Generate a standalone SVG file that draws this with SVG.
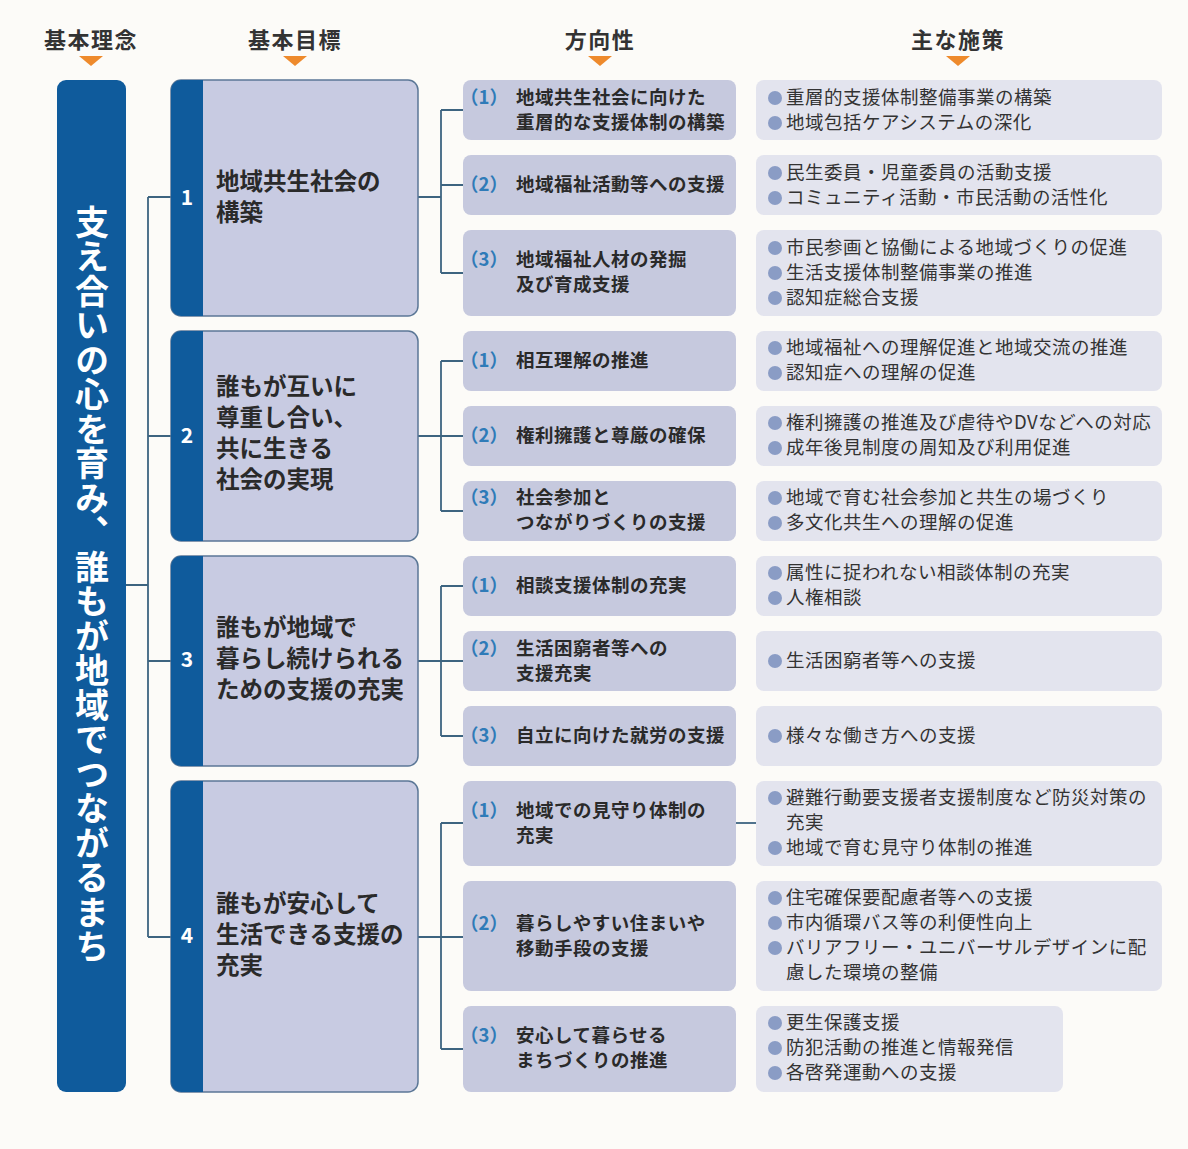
<svg xmlns="http://www.w3.org/2000/svg" width="1188" height="1149" viewBox="0 0 1188 1149">
<style>
text{font-family:"Noto Sans CJK JP","Noto Sans",sans-serif}
.hd{font-size:22px;font-weight:bold;fill:#333;text-anchor:middle;letter-spacing:1.5px}
.tri{fill:#ee8a2c}
.gbox{fill:#c8cbe2;stroke:#5b7796;stroke-width:1.5}
.strip{fill:#0f5b9c}
.num{font-size:21px;font-weight:bold;fill:#fff;text-anchor:middle}
.gt{font-size:23.5px;font-weight:bold;fill:#2a2a2a}
.dbox{fill:#c6c9de}
.mbox{fill:#e3e4ee}
.par{font-size:18.5px;font-weight:bold;fill:#2f7bb8}
.dt{font-size:18.5px;font-weight:bold;fill:#2a2a2a;letter-spacing:0.5px}
.mt{font-size:18.5px;fill:#333;letter-spacing:0.5px}
.bul{fill:#8a9cc5}
.ln{fill:none;stroke:#3d6480;stroke-width:1.8}
.vt{font-size:34px;font-weight:bold;fill:#fff;writing-mode:vertical-rl;text-orientation:upright;letter-spacing:0.5px}
</style>
<rect width="1188" height="1149" fill="#fcfbf8"/>

<g id="headers">
<text class="hd" x="91" y="48">基本理念</text>
<text class="hd" x="295" y="48">基本目標</text>
<text class="hd" x="600" y="48">方向性</text>
<text class="hd" x="958" y="48">主な施策</text>
<polygon class="tri" points="79,56 103,56 91,66"/>
<polygon class="tri" points="283,56 307,56 295,66"/>
<polygon class="tri" points="588,56 612,56 600,66"/>
<polygon class="tri" points="946,56 970,56 958,66"/>
</g>

<g id="connectors">
<path class="ln" d="M126,585 H148 M148,197 V937 M148,197 H171 M148,436 H171 M148,661 H171 M148,937 H171"/>
<path class="ln" d="M418,197 H441 M441,110 V273 M441,110 H463 M441,185 H463 M441,273 H463"/>
<path class="ln" d="M418,436 H441 M441,361 V511 M441,361 H463 M441,436 H463 M441,511 H463"/>
<path class="ln" d="M418,661 H441 M441,586 V736 M441,586 H463 M441,661 H463 M441,736 H463"/>
<path class="ln" d="M418,937 H441 M441,823 V1049 M441,823 H463 M441,937 H463 M441,1049 H463"/>
<path class="ln" d="M736,823 H756"/>
</g>

<g id="philosophy">
<rect x="57" y="80" width="69" height="1012" rx="9" fill="#0f5b9c"/>
<text class="vt" x="92" y="205">支え合いの心を育み、誰もが地域でつながるまち</text>
</g>

<g id="goal1">
<rect class="gbox" x="171" y="80" width="247" height="236" rx="10"/>
<path class="strip" d="M181,80 H203 V316 H181 A10,10 0 0 1 171,306 V90 A10,10 0 0 1 181,80 Z"/>
<text class="num" x="187" y="205">1</text>
<text class="gt" x="216" y="190">地域共生社会の</text>
<text class="gt" x="216" y="221">構築</text>
</g>
<g id="goal2">
<rect class="gbox" x="171" y="331" width="247" height="210" rx="10"/>
<path class="strip" d="M181,331 H203 V541 H181 A10,10 0 0 1 171,531 V341 A10,10 0 0 1 181,331 Z"/>
<text class="num" x="187" y="443">2</text>
<text class="gt" x="216" y="395">誰もが互いに</text>
<text class="gt" x="216" y="426">尊重し合い、</text>
<text class="gt" x="216" y="457">共に生きる</text>
<text class="gt" x="216" y="488">社会の実現</text>
</g>
<g id="goal3">
<rect class="gbox" x="171" y="556" width="247" height="210" rx="10"/>
<path class="strip" d="M181,556 H203 V766 H181 A10,10 0 0 1 171,756 V566 A10,10 0 0 1 181,556 Z"/>
<text class="num" x="187" y="667">3</text>
<text class="gt" x="216" y="636">誰もが地域で</text>
<text class="gt" x="216" y="667">暮らし続けられる</text>
<text class="gt" x="216" y="698">ための支援の充実</text>
</g>
<g id="goal4">
<rect class="gbox" x="171" y="781" width="247" height="311" rx="10"/>
<path class="strip" d="M181,781 H203 V1092 H181 A10,10 0 0 1 171,1082 V791 A10,10 0 0 1 181,781 Z"/>
<text class="num" x="187" y="943">4</text>
<text class="gt" x="216" y="912">誰もが安心して</text>
<text class="gt" x="216" y="943">生活できる支援の</text>
<text class="gt" x="216" y="974">充実</text>
</g>

<g id="dir1-1">
<rect class="dbox" x="463" y="80" width="273" height="60" rx="8"/>
<text class="par" x="460" y="104">（1）</text>
<text class="dt" x="516" y="104">地域共生社会に向けた</text>
<text class="dt" x="516" y="129">重層的な支援体制の構築</text>
</g>
<g id="dir1-2">
<rect class="dbox" x="463" y="155" width="273" height="60" rx="8"/>
<text class="par" x="460" y="191">（2）</text>
<text class="dt" x="516" y="191">地域福祉活動等への支援</text>
</g>
<g id="dir1-3">
<rect class="dbox" x="463" y="230" width="273" height="86" rx="8"/>
<text class="par" x="460" y="266">（3）</text>
<text class="dt" x="516" y="266">地域福祉人材の発掘</text>
<text class="dt" x="516" y="291">及び育成支援</text>
</g>
<g id="dir2-1">
<rect class="dbox" x="463" y="331" width="273" height="60" rx="8"/>
<text class="par" x="460" y="367">（1）</text>
<text class="dt" x="516" y="367">相互理解の推進</text>
</g>
<g id="dir2-2">
<rect class="dbox" x="463" y="406" width="273" height="60" rx="8"/>
<text class="par" x="460" y="442">（2）</text>
<text class="dt" x="516" y="442">権利擁護と尊厳の確保</text>
</g>
<g id="dir2-3">
<rect class="dbox" x="463" y="481" width="273" height="60" rx="8"/>
<text class="par" x="460" y="504">（3）</text>
<text class="dt" x="516" y="504">社会参加と</text>
<text class="dt" x="516" y="529">つながりづくりの支援</text>
</g>
<g id="dir3-1">
<rect class="dbox" x="463" y="556" width="273" height="60" rx="8"/>
<text class="par" x="460" y="592">（1）</text>
<text class="dt" x="516" y="592">相談支援体制の充実</text>
</g>
<g id="dir3-2">
<rect class="dbox" x="463" y="631" width="273" height="60" rx="8"/>
<text class="par" x="460" y="655">（2）</text>
<text class="dt" x="516" y="655">生活困窮者等への</text>
<text class="dt" x="516" y="680">支援充実</text>
</g>
<g id="dir3-3">
<rect class="dbox" x="463" y="706" width="273" height="60" rx="8"/>
<text class="par" x="460" y="742">（3）</text>
<text class="dt" x="516" y="742">自立に向けた就労の支援</text>
</g>
<g id="dir4-1">
<rect class="dbox" x="463" y="781" width="273" height="85" rx="8"/>
<text class="par" x="460" y="817">（1）</text>
<text class="dt" x="516" y="817">地域での見守り体制の</text>
<text class="dt" x="516" y="842">充実</text>
</g>
<g id="dir4-2">
<rect class="dbox" x="463" y="881" width="273" height="110" rx="8"/>
<text class="par" x="460" y="930">（2）</text>
<text class="dt" x="516" y="930">暮らしやすい住まいや</text>
<text class="dt" x="516" y="955">移動手段の支援</text>
</g>
<g id="dir4-3">
<rect class="dbox" x="463" y="1006" width="273" height="86" rx="8"/>
<text class="par" x="460" y="1042">（3）</text>
<text class="dt" x="516" y="1042">安心して暮らせる</text>
<text class="dt" x="516" y="1067">まちづくりの推進</text>
</g>

<g id="mea1-1">
<rect class="mbox" x="756" y="80" width="406" height="60" rx="8"/>
<circle class="bul" cx="775" cy="98" r="7"/><text class="mt" x="786" y="104">重層的支援体制整備事業の構築</text>
<circle class="bul" cx="775" cy="123" r="7"/><text class="mt" x="786" y="129">地域包括ケアシステムの深化</text>
</g>
<g id="mea1-2">
<rect class="mbox" x="756" y="155" width="406" height="60" rx="8"/>
<circle class="bul" cx="775" cy="173" r="7"/><text class="mt" x="786" y="179">民生委員・児童委員の活動支援</text>
<circle class="bul" cx="775" cy="198" r="7"/><text class="mt" x="786" y="204">コミュニティ活動・市民活動の活性化</text>
</g>
<g id="mea1-3">
<rect class="mbox" x="756" y="230" width="406" height="86" rx="8"/>
<circle class="bul" cx="775" cy="248" r="7"/><text class="mt" x="786" y="254">市民参画と協働による地域づくりの促進</text>
<circle class="bul" cx="775" cy="273" r="7"/><text class="mt" x="786" y="279">生活支援体制整備事業の推進</text>
<circle class="bul" cx="775" cy="298" r="7"/><text class="mt" x="786" y="304">認知症総合支援</text>
</g>
<g id="mea2-1">
<rect class="mbox" x="756" y="331" width="406" height="60" rx="8"/>
<circle class="bul" cx="775" cy="348" r="7"/><text class="mt" x="786" y="354">地域福祉への理解促進と地域交流の推進</text>
<circle class="bul" cx="775" cy="373" r="7"/><text class="mt" x="786" y="379">認知症への理解の促進</text>
</g>
<g id="mea2-2">
<rect class="mbox" x="756" y="406" width="406" height="60" rx="8"/>
<circle class="bul" cx="775" cy="423" r="7"/><text class="mt" x="786" y="429">権利擁護の推進及び虐待やDVなどへの対応</text>
<circle class="bul" cx="775" cy="448" r="7"/><text class="mt" x="786" y="454">成年後見制度の周知及び利用促進</text>
</g>
<g id="mea2-3">
<rect class="mbox" x="756" y="481" width="406" height="60" rx="8"/>
<circle class="bul" cx="775" cy="498" r="7"/><text class="mt" x="786" y="504">地域で育む社会参加と共生の場づくり</text>
<circle class="bul" cx="775" cy="523" r="7"/><text class="mt" x="786" y="529">多文化共生への理解の促進</text>
</g>
<g id="mea3-1">
<rect class="mbox" x="756" y="556" width="406" height="60" rx="8"/>
<circle class="bul" cx="775" cy="573" r="7"/><text class="mt" x="786" y="579">属性に捉われない相談体制の充実</text>
<circle class="bul" cx="775" cy="598" r="7"/><text class="mt" x="786" y="604">人権相談</text>
</g>
<g id="mea3-2">
<rect class="mbox" x="756" y="631" width="406" height="60" rx="8"/>
<circle class="bul" cx="775" cy="661" r="7"/><text class="mt" x="786" y="667">生活困窮者等への支援</text>
</g>
<g id="mea3-3">
<rect class="mbox" x="756" y="706" width="406" height="60" rx="8"/>
<circle class="bul" cx="775" cy="736" r="7"/><text class="mt" x="786" y="742">様々な働き方への支援</text>
</g>
<g id="mea4-1">
<rect class="mbox" x="756" y="781" width="406" height="85" rx="8"/>
<circle class="bul" cx="775" cy="798" r="7"/><text class="mt" x="786" y="804">避難行動要支援者支援制度など防災対策の</text>
<text class="mt" x="786" y="829">充実</text>
<circle class="bul" cx="775" cy="848" r="7"/><text class="mt" x="786" y="854">地域で育む見守り体制の推進</text>
</g>
<g id="mea4-2">
<rect class="mbox" x="756" y="881" width="406" height="110" rx="8"/>
<circle class="bul" cx="775" cy="898" r="7"/><text class="mt" x="786" y="904">住宅確保要配慮者等への支援</text>
<circle class="bul" cx="775" cy="923" r="7"/><text class="mt" x="786" y="929">市内循環バス等の利便性向上</text>
<circle class="bul" cx="775" cy="948" r="7"/><text class="mt" x="786" y="954">バリアフリー・ユニバーサルデザインに配</text>
<text class="mt" x="786" y="979">慮した環境の整備</text>
</g>
<g id="mea4-3">
<rect class="mbox" x="756" y="1006" width="307" height="86" rx="8"/>
<circle class="bul" cx="775" cy="1023" r="7"/><text class="mt" x="786" y="1029">更生保護支援</text>
<circle class="bul" cx="775" cy="1048" r="7"/><text class="mt" x="786" y="1054">防犯活動の推進と情報発信</text>
<circle class="bul" cx="775" cy="1073" r="7"/><text class="mt" x="786" y="1079">各啓発運動への支援</text>
</g>
</svg>
